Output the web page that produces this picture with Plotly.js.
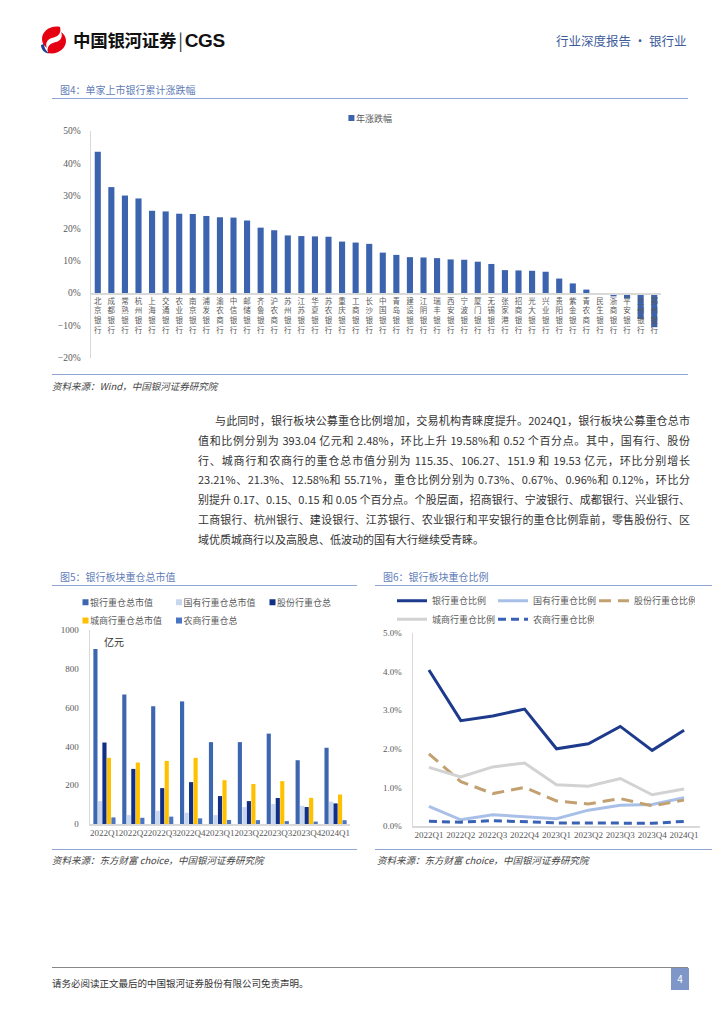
<!DOCTYPE html>
<html>
<head>
<meta charset="utf-8">
<script src="https://cdn.plot.ly/plotly-3.0.1.min.js"></script>
<style>
  html,body{margin:0;padding:0;background:#fff;}
  body{width:724px;height:1024px;position:relative;overflow:hidden;font-family:"Noto Sans CJK SC","Noto Sans",sans-serif;}
  .abs{position:absolute;white-space:nowrap;}
  .ftitle{font-size:10px;color:#5f7db8;line-height:12px;}
  .rule{position:absolute;height:0;border-top:1.5px solid #8fa6d4;}
  .src{font-size:9.5px;color:#444;font-style:italic;line-height:12px;}
  .para{position:absolute;left:198px;top:411px;width:492px;font-size:11px;color:#333;}
  .para div{height:19.8px;line-height:19.8px;text-align:justify;text-align-last:justify;}
  .plot{position:absolute;}
</style>
</head>
<body>
<!-- header -->
<svg class="abs" style="left:38px;top:25px" width="32" height="30" viewBox="0 0 32 30">
  <path d="M22,2 C13,0 4,6 4,14 C4,18 6,21 9,23 C7,19 9,14 14,13 C19,12 24,9 22,2 Z" fill="#e50012"/>
  <path d="M10,28 C19,30 28,24 28,16 C28,12 26,9 23,7 C25,11 23,16 18,17 C13,18 8,21 10,28 Z" fill="#e50012"/>
  <path d="M3,20 C3,25 7,28 11,28.5 C8,26 6,23 6,19 Z" fill="#1f3f95"/>
</svg>
<div class="abs" style="left:73px;top:28px;font-size:17.5px;font-weight:bold;color:#111;line-height:24px;letter-spacing:-0.3px;">中国银河证券<span style="font-weight:normal;color:#333;margin:0 2px 0 2px;">|</span><span style="font-family:'Liberation Sans',Arial,sans-serif;font-size:19px;">CGS</span></div>
<div class="abs" style="left:556px;top:32px;font-size:12.5px;color:#3d5c9c;line-height:18px;">行业深度报告 · 银行业</div>

<!-- figure 4 -->
<div class="abs ftitle" style="left:60px;top:84px;">图4：单家上市银行累计涨跌幅</div>
<div class="rule" style="left:52px;top:98px;width:636px;"></div>
<div id="fig4" class="plot" style="left:50px;top:105px;width:640px;height:265px;"></div>
<div class="rule" style="left:52px;top:374px;width:636px;"></div>
<div class="abs src" style="left:52px;top:380px;">资料来源：Wind，中国银河证券研究院</div>

<!-- paragraph -->
<div class="para">
  <div style="padding-left:17px;">与此同时，银行板块公募重仓比例增加，交易机构青睐度提升。2024Q1，银行板块公募重仓总市</div>
  <div>值和比例分别为 393.04 亿元和 2.48%，环比上升 19.58%和 0.52 个百分点。其中，国有行、股份</div>
  <div>行、城商行和农商行的重仓总市值分别为 115.35、106.27、151.9 和 19.53 亿元，环比分别增长</div>
  <div>23.21%、21.3%、12.58%和 55.71%，重仓比例分别为 0.73%、0.67%、0.96%和 0.12%，环比分</div>
  <div>别提升 0.17、0.15、0.15 和 0.05 个百分点。个股层面，招商银行、宁波银行、成都银行、兴业银行、</div>
  <div>工商银行、杭州银行、建设银行、江苏银行、农业银行和平安银行的重仓比例靠前，零售股份行、区</div>
  <div style="text-align-last:left;">域优质城商行以及高股息、低波动的国有大行继续受青睐。</div>
</div>

<!-- figure 5 -->
<div class="abs ftitle" style="left:60px;top:571px;">图5：银行板块重仓总市值</div>
<div class="rule" style="left:52px;top:585px;width:305px;"></div>
<div id="fig5" class="plot" style="left:50px;top:590px;width:310px;height:258px;"></div>
<div class="rule" style="left:52px;top:849px;width:305px;"></div>
<div class="abs src" style="left:52px;top:854px;">资料来源：东方财富 choice，中国银河证券研究院</div>

<!-- figure 6 -->
<div class="abs ftitle" style="left:383px;top:571px;">图6：银行板块重仓比例</div>
<div class="rule" style="left:375px;top:585px;width:337px;"></div>
<div id="fig6" class="plot" style="left:370px;top:590px;width:340px;height:258px;"></div>
<div class="rule" style="left:375px;top:849px;width:337px;"></div>
<div class="abs src" style="left:377px;top:854px;">资料来源：东方财富 choice，中国银河证券研究院</div>

<!-- footer -->
<div class="abs" style="left:52px;top:967px;width:636px;height:0;border-top:1.2px solid #888;"></div>
<div class="abs" style="left:52px;top:976px;font-size:9.5px;color:#333;line-height:14px;">请务必阅读正文最后的中国银河证券股份有限公司免责声明。</div>
<div class="abs" style="left:671px;top:968px;width:18px;height:22px;background:#7f96c9;color:#fff;font-size:10px;line-height:22px;text-align:center;">4</div>

<script>
// ---------- Figure 4 data ----------
const banks = ['北京银行','成都银行','常熟银行','杭州银行','上海银行','交通银行','农业银行','南京银行','浦发银行','渝农商行',
  '中信银行','邮储银行','齐鲁银行','沪农商行','苏州银行','江苏银行','华夏银行','苏农银行','重庆银行','工商银行',
  '长沙银行','中国银行','青岛银行','建设银行','江阴银行','瑞丰银行','西安银行','宁波银行','厦门银行','无锡银行',
  '张家港行','招商银行','光大银行','兴业银行','贵阳银行','紫金银行','青农商行','民生银行','浙商银行','平安银行',
  '兰州银行','郑州银行'];
const ytdChange = [43.6,32.7,30.1,29.2,25.4,25.2,24.5,24.4,23.8,23.4,
  23.3,22.4,20.2,19.4,17.8,17.6,17.5,17.4,15.9,15.6,
  15.2,12.5,11.8,11.1,11.0,10.8,10.4,10.3,9.7,9.0,
  7.1,7.0,6.9,6.6,4.5,3.0,1.1,-0.3,-1.0,-1.7,
  -8.0,-10.5];
const fig4Range = [-20, 50];

// ---------- Figure 5 / 6 data ----------
const quarters = ['2022Q1','2022Q2','2022Q3','2022Q4','2023Q1','2023Q2','2023Q3','2023Q4','2024Q1'];
const totalMV = [902, 667, 607, 632, 422, 422, 466, 328.7, 393.04];
const stateMV = [118, 46, 68, 58, 46, 87, 103, 93.6, 115.35];
const jointMV = [420, 284, 185, 216, 144, 118, 134, 87.6, 106.27];
const cityMV  = [341, 317, 325, 341, 226, 206, 221, 134.9, 151.9];
const ruralMV = [34, 32, 38, 29, 21, 20, 15, 12.5, 19.53];

const totalRatio = [4.04, 2.73, 2.85, 3.03, 2.00, 2.13, 2.58, 1.96, 2.48];
const stateRatio = [0.51, 0.16, 0.29, 0.24, 0.19, 0.41, 0.54, 0.56, 0.73];
const jointRatio = [1.87, 1.15, 0.84, 1.00, 0.65, 0.57, 0.71, 0.52, 0.67];
const cityRatio  = [1.52, 1.27, 1.53, 1.63, 1.07, 1.03, 1.23, 0.81, 0.96];
const ruralRatio = [0.12, 0.10, 0.14, 0.11, 0.08, 0.08, 0.07, 0.07, 0.12];

const cfg = {staticPlot: true, displayModeBar: false};
const gray = '#595959';
const axisLine = '#d9d9d9';
const numFont = 'Liberation Serif, serif';
const cjkFont = 'Noto Sans CJK SC, sans-serif';

// shrink bar legend squares so they sit right next to the legend text
function smallSquares(id) {
  document.querySelectorAll('#' + id + ' .legendpoints path').forEach(p => {
    p.setAttribute('transform', 'translate(35.5,0) scale(0.5)');
  });
}

// ---------- Figure 4 ----------
Plotly.newPlot('fig4', [{
  type: 'bar', x: banks, y: ytdChange, name: '年涨跌幅',
  marker: {color: '#3c64ae'}, showlegend: true
}], {
  width: 640, height: 265,
  margin: {l: 41, r: 29, t: 26, b: 12, autoexpand: false},
  paper_bgcolor: 'rgba(0,0,0,0)', plot_bgcolor: 'rgba(0,0,0,0)',
  font: {family: cjkFont, color: gray},
  bargap: 0.55,
  showlegend: true,
  legend: {x: 0.3946, xanchor: 'left', y: 1.057, yanchor: 'middle', orientation: 'h',
           font: {size: 9, color: gray}, bgcolor: 'rgba(0,0,0,0)'},
  xaxis: {type: 'category', anchor: 'free',
          position: (0 - fig4Range[0]) / (fig4Range[1] - fig4Range[0]),
          showline: true, linecolor: axisLine, linewidth: 1.5,
          tickmode: 'array', tickvals: banks,
          ticktext: banks.map(b => b.split('').join('<br>')),
          tickangle: 0, ticks: '', tickfont: {size: 7.5, color: gray, family: cjkFont},
          showgrid: false, zeroline: false},
  yaxis: {range: fig4Range, dtick: 10, ticksuffix: '%', showgrid: false, zeroline: false,
          showline: true, linecolor: axisLine, linewidth: 1.5,
          ticks: 'outside', ticklen: 7, tickcolor: 'rgba(0,0,0,0)',
          tickfont: {size: 9.5, color: gray, family: numFont}}
}, cfg).then(() => smallSquares('fig4'));

// ---------- Figure 5 ----------
const f5Plot = {l: 40, r: 10, t: 39.5, b: 24};
const f5W = 310 - f5Plot.l - f5Plot.r, f5H = 258 - f5Plot.t - f5Plot.b;
Plotly.newPlot('fig5', [
  {type: 'bar', x: quarters, y: totalMV, name: '银行重仓总市值', marker: {color: '#3d66b1'}, legend: 'legend'},
  {type: 'bar', x: quarters, y: stateMV, name: '国有行重仓总市值', marker: {color: '#c9d7ee'}, legend: 'legend'},
  {type: 'bar', x: quarters, y: jointMV, name: '股份行重仓总市值', marker: {color: '#112f86'}, legend: 'legend'},
  {type: 'bar', x: quarters, y: cityMV, name: '城商行重仓总市值', marker: {color: '#ffc000'}, legend: 'legend2'},
  {type: 'bar', x: quarters, y: ruralMV, name: '农商行重仓总市值', marker: {color: '#4a74c4'}, legend: 'legend2'}
], {
  width: 310, height: 258,
  margin: Object.assign({autoexpand: false}, f5Plot),
  paper_bgcolor: 'rgba(0,0,0,0)', plot_bgcolor: 'rgba(0,0,0,0)',
  font: {family: cjkFont, color: gray},
  barmode: 'group', bargap: 0.22, bargroupgap: 0.08,
  showlegend: true,
  legend: {orientation: 'h', x: -f5Plot.l / f5W, xanchor: 'left', y: 1 + 27.8 / f5H, yanchor: 'middle',
           entrywidth: 48.5, entrywidthmode: 'pixels', font: {size: 9, color: gray}, bgcolor: 'rgba(0,0,0,0)'},
  legend2: {orientation: 'h', x: -f5Plot.l / f5W, xanchor: 'left', y: 1 + 9.5 / f5H, yanchor: 'middle',
           entrywidth: 48.5, entrywidthmode: 'pixels', font: {size: 9, color: gray}, bgcolor: 'rgba(0,0,0,0)'},
  xaxis: {type: 'category', tickmode: 'array', tickvals: quarters, tickangle: 0,
          showline: true, linecolor: axisLine, linewidth: 1.5, ticks: '', showgrid: false,
          tickfont: {size: 9, color: gray, family: numFont}},
  yaxis: {range: [0, 1000], dtick: 200, showgrid: false, zeroline: false,
          showline: true, linecolor: axisLine, linewidth: 1.5,
          ticks: 'outside', ticklen: 8, tickcolor: 'rgba(0,0,0,0)',
          tickfont: {size: 9, color: gray, family: numFont}},
  annotations: [{text: '亿元', xref: 'paper', yref: 'paper', x: 0.045, y: 0.94, xanchor: 'left', yanchor: 'middle',
                 showarrow: false, font: {size: 10, color: '#333', family: cjkFont}}]
}, cfg).then(() => smallSquares('fig5'));

// ---------- Figure 6 ----------
const f6Plot = {l: 43, r: 10, t: 43, b: 22};
const f6W = 340 - f6Plot.l - f6Plot.r, f6H = 258 - f6Plot.t - f6Plot.b;
Plotly.newPlot('fig6', [
  {type: 'scatter', mode: 'lines', x: quarters, y: totalRatio, name: '银行重仓比例', line: {color: '#1d3a8c', width: 3}, legend: 'legend'},
  {type: 'scatter', mode: 'lines', x: quarters, y: stateRatio, name: '国有行重仓比例', line: {color: '#a8c0e8', width: 3}, legend: 'legend'},
  {type: 'scatter', mode: 'lines', x: quarters, y: jointRatio, name: '股份行重仓比例', line: {color: '#c2a070', width: 3, dash: '12px,7px'}, legend: 'legend'},
  {type: 'scatter', mode: 'lines', x: quarters, y: cityRatio, name: '城商行重仓比例', line: {color: '#d2d2d2', width: 3}, legend: 'legend2'},
  {type: 'scatter', mode: 'lines', x: quarters, y: ruralRatio, name: '农商行重仓比例', line: {color: '#3a62b4', width: 3, dash: '8px,5px'}, legend: 'legend2'}
], {
  width: 340, height: 258,
  margin: Object.assign({autoexpand: false}, f6Plot),
  paper_bgcolor: 'rgba(0,0,0,0)', plot_bgcolor: 'rgba(0,0,0,0)',
  font: {family: cjkFont, color: gray},
  showlegend: true,
  legend: {orientation: 'h', x: -21 / f6W, xanchor: 'left', y: 1 + 32.3 / f6H, yanchor: 'middle',
           entrywidth: 56, entrywidthmode: 'pixels', font: {size: 9, color: gray}, bgcolor: 'rgba(0,0,0,0)'},
  legend2: {orientation: 'h', x: -21 / f6W, xanchor: 'left', y: 1 + 13.7 / f6H, yanchor: 'middle',
           entrywidth: 56, entrywidthmode: 'pixels', font: {size: 9, color: gray}, bgcolor: 'rgba(0,0,0,0)'},
  xaxis: {type: 'category', tickmode: 'array', tickvals: quarters, tickangle: 0,
          range: [-0.5, quarters.length - 0.5],
          showline: true, linecolor: axisLine, linewidth: 1.5, ticks: '', showgrid: false,
          tickfont: {size: 9, color: gray, family: numFont}},
  yaxis: {range: [0, 5], dtick: 1, tickformat: '.1f', ticksuffix: '%', showgrid: false, zeroline: false,
          showline: true, linecolor: axisLine, linewidth: 1.5,
          ticks: 'outside', ticklen: 8, tickcolor: 'rgba(0,0,0,0)',
          tickfont: {size: 9, color: gray, family: numFont}}
}, cfg);
</script>
</body>
</html>
